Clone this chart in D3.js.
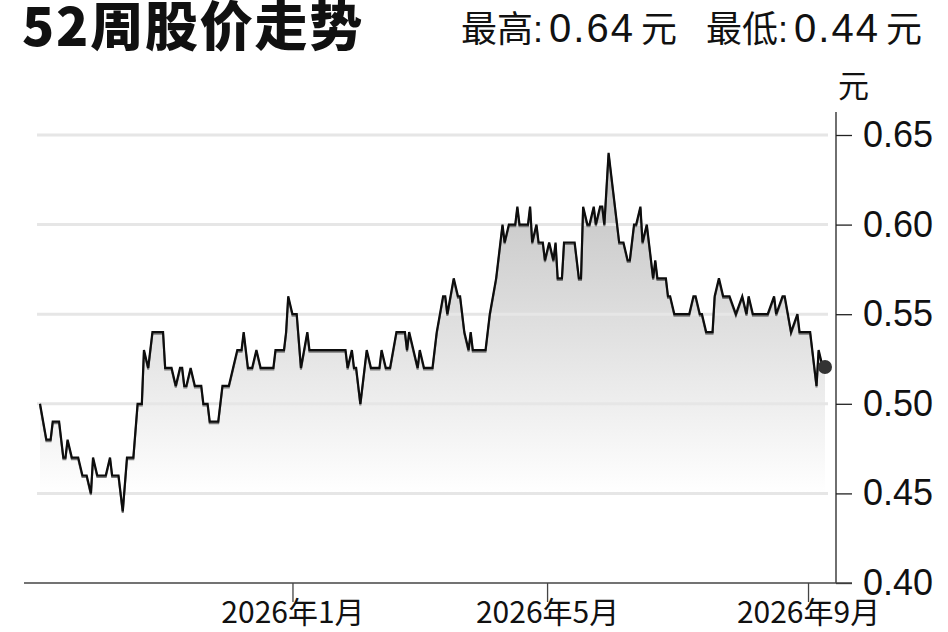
<!DOCTYPE html>
<html>
<head>
<meta charset="utf-8">
<script src="https://cdn.jsdelivr.net/npm/d3@7"></script>
<style>
  body { margin: 0; background: #fff; }
  svg { display: block; }
</style>
</head>
<body>
<svg id="chart"></svg>
<script>
// 52-week closes (turning points only)
const dates = [
  "2025-09-04","2025-09-07","2025-09-09","2025-09-10","2025-09-13","2025-09-15","2025-09-16","2025-09-17","2025-09-19","2025-09-22","2025-09-24","2025-09-26","2025-09-28","2025-09-29",
  "2025-10-01","2025-10-05","2025-10-07","2025-10-08","2025-10-11","2025-10-13","2025-10-15","2025-10-18","2025-10-20","2025-10-22","2025-10-23","2025-10-25","2025-10-27",
  "2025-11-01","2025-11-02","2025-11-05","2025-11-07","2025-11-09","2025-11-10","2025-11-11","2025-11-12","2025-11-14","2025-11-16","2025-11-19","2025-11-20","2025-11-22","2025-11-23","2025-11-27","2025-11-29",
  "2025-12-02","2025-12-04","2025-12-06","2025-12-08","2025-12-09","2025-12-11","2025-12-13","2025-12-15","2025-12-17","2025-12-23","2025-12-24","2025-12-28","2025-12-29","2025-12-30",
  "2026-01-01","2026-01-03","2026-01-05","2026-01-08","2026-01-09","2026-01-26","2026-01-27","2026-01-29","2026-01-30","2026-01-31",
  "2026-02-02","2026-02-05","2026-02-07","2026-02-11","2026-02-12","2026-02-14","2026-02-16","2026-02-19","2026-02-23","2026-02-24","2026-02-25",
  "2026-03-01","2026-03-02","2026-03-04","2026-03-08","2026-03-10","2026-03-13","2026-03-14","2026-03-15","2026-03-18","2026-03-20","2026-03-21","2026-03-23","2026-03-25","2026-03-26","2026-03-27",
  "2026-04-02","2026-04-04","2026-04-07","2026-04-10","2026-04-11","2026-04-13","2026-04-16","2026-04-17","2026-04-18","2026-04-22","2026-04-23","2026-04-24","2026-04-26","2026-04-27","2026-04-29","2026-04-30",
  "2026-05-02","2026-05-04","2026-05-05","2026-05-06","2026-05-08","2026-05-09","2026-05-14","2026-05-16","2026-05-17","2026-05-18","2026-05-20","2026-05-21","2026-05-23","2026-05-24","2026-05-26","2026-05-27","2026-05-28","2026-05-30",
  "2026-06-01","2026-06-04","2026-06-06","2026-06-08","2026-06-09","2026-06-11","2026-06-12","2026-06-14","2026-06-15","2026-06-17","2026-06-18","2026-06-20","2026-06-21","2026-06-22","2026-06-26","2026-06-27","2026-06-28","2026-06-30",
  "2026-07-07","2026-07-09","2026-07-10","2026-07-12","2026-07-13","2026-07-15","2026-07-18","2026-07-19","2026-07-21","2026-07-23","2026-07-26","2026-07-29",
  "2026-08-01","2026-08-03","2026-08-04","2026-08-06","2026-08-13","2026-08-16","2026-08-17","2026-08-20","2026-08-21","2026-08-24","2026-08-27","2026-08-28",
  "2026-09-02","2026-09-05","2026-09-06","2026-09-08","2026-09-09"
];
const prices = [
  0.50,0.48,0.48,0.49,0.49,0.47,0.47,0.48,0.47,0.47,0.46,0.46,0.45,0.47,
  0.46,0.46,0.47,0.46,0.46,0.44,0.47,0.47,0.50,0.50,0.53,0.52,0.54,
  0.54,0.52,0.52,0.51,0.52,0.52,0.51,0.51,0.52,0.51,0.51,0.50,0.50,0.49,0.49,0.51,
  0.51,0.52,0.53,0.53,0.54,0.52,0.52,0.53,0.52,0.52,0.53,0.53,0.54,0.56,
  0.55,0.55,0.52,0.54,0.53,0.53,0.52,0.53,0.52,0.52,
  0.50,0.53,0.52,0.52,0.53,0.52,0.52,0.54,0.54,0.53,0.54,
  0.52,0.53,0.52,0.52,0.54,0.56,0.56,0.55,0.57,0.56,0.56,0.54,0.53,0.54,0.53,
  0.53,0.55,0.57,0.60,0.59,0.60,0.60,0.61,0.60,0.60,0.61,0.59,0.60,0.59,0.59,0.58,
  0.59,0.58,0.59,0.57,0.57,0.59,0.59,0.57,0.57,0.61,0.60,0.60,0.61,0.60,0.61,0.61,0.60,0.64,
  0.62,0.59,0.59,0.58,0.58,0.60,0.60,0.61,0.59,0.60,0.59,0.57,0.58,0.57,0.57,0.56,0.56,0.55,
  0.55,0.56,0.56,0.55,0.55,0.54,0.54,0.56,0.57,0.56,0.56,0.55,
  0.56,0.55,0.56,0.55,0.55,0.56,0.55,0.56,0.56,0.54,0.55,0.54,
  0.54,0.51,0.53,0.52,0.52
];
const yTicks = [0.40, 0.45, 0.50, 0.55, 0.60, 0.65];
const monthTicks = ["2026-01-01", "2026-05-01", "2026-09-01"];
const title = "52周股价走势";
const highLabel = "最高", highValue = "0.64";
const lowLabel = "最低", lowValue = "0.44";
const unitText = "元";

const W = 948, H = 632;
const parse = d3.timeParse("%Y-%m-%d");
const data = dates.map((d, i) => ({date: parse(d), value: prices[i]}));

const svg = d3.select("#chart").attr("width", W).attr("height", H);

// scales
const x = d3.scaleTime()
  .domain(d3.extent(data, d => d.date))
  .range([40, 825]);
const y = d3.scaleLinear()
  .domain([0.40, 0.65])
  .range([583, 135]);

const axisX = 836, plotTop = 112;
const cjk = "'Noto Sans CJK SC', 'Noto Sans', sans-serif";
const latin = "'Liberation Sans', 'Noto Sans CJK SC', sans-serif";
const narrow = "'Liberation Sans Narrow', 'Arial Narrow', 'Liberation Sans', sans-serif";

// area gradient
const grad = svg.append("defs").append("linearGradient")
  .attr("id", "fade")
  .attr("gradientUnits", "userSpaceOnUse")
  .attr("x1", 0).attr("x2", 0)
  .attr("y1", y(0.64)).attr("y2", y(0.45));
grad.append("stop").attr("offset", 0).attr("stop-color", "#c0c0c0");
grad.append("stop").attr("offset", 0.55).attr("stop-color", "#e2e2e2");
grad.append("stop").attr("offset", 1).attr("stop-color", "#ffffff");

const area = d3.area()
  .x(d => x(d.date))
  .y0(y(0.40))
  .y1(d => y(d.value));
svg.append("path")
  .datum(data)
  .attr("d", area)
  .attr("fill", "url(#fade)");

// gridlines
svg.append("g")
  .selectAll("line")
  .data(yTicks.filter(v => v > 0.40))
  .join("line")
  .attr("x1", 37).attr("x2", 828)
  .attr("y1", d => y(d)).attr("y2", d => y(d))
  .attr("stroke", "#e6e6e6")
  .attr("stroke-width", 3);

// line with a soft grey shadow
const line = d3.line()
  .x(d => x(d.date))
  .y(d => y(d.value));
svg.append("path")
  .datum(data)
  .attr("d", line)
  .attr("transform", "translate(0,1.6)")
  .attr("fill", "none")
  .attr("stroke", "#7a7a7a")
  .attr("stroke-width", 2);
svg.append("path")
  .datum(data)
  .attr("d", line)
  .attr("fill", "none")
  .attr("stroke", "#0d0d0d")
  .attr("stroke-width", 2.2);

// last point marker
const last = data[data.length - 1];
svg.append("circle")
  .attr("cx", x(last.date))
  .attr("cy", y(last.value) - 1)
  .attr("r", 7)
  .attr("fill", "#333");

// y axis on the right
const yAxis = d3.axisRight(y)
  .tickValues(yTicks)
  .tickSize(16)
  .tickPadding(11)
  .tickFormat(d3.format(".2f"));
const gy = svg.append("g")
  .attr("transform", `translate(${axisX},0)`)
  .call(yAxis);
gy.select(".domain").remove();
gy.selectAll(".tick line").attr("stroke", "#222").attr("stroke-width", 1.3);
gy.selectAll(".tick text")
  .attr("fill", "#111")
  .style("font-family", narrow)
  .style("font-size", "36px");
svg.append("line")
  .attr("x1", axisX).attr("x2", axisX)
  .attr("y1", plotTop).attr("y2", y(0.40))
  .attr("stroke", "#222").attr("stroke-width", 1.3);

// x axis
const xAxis = d3.axisBottom(x)
  .tickValues(monthTicks.map(parse))
  .tickSize(19)
  .tickPadding(0)
  .tickFormat(d3.timeFormat("%Y年%-m月"));
const gx = svg.append("g")
  .attr("transform", `translate(0,${y(0.40)})`)
  .call(xAxis);
gx.select(".domain").remove();
gx.selectAll(".tick line").attr("stroke", "#444").attr("stroke-width", 1.3);
gx.selectAll(".tick text")
  .attr("fill", "#111")
  .style("font-family", cjk)
  .style("font-size", "30px");
svg.append("line")
  .attr("x1", 24).attr("x2", axisX + 16)
  .attr("y1", y(0.40)).attr("y2", y(0.40))
  .attr("stroke", "#444").attr("stroke-width", 1.5);

// headings
svg.append("text")
  .attr("x", 22).attr("y", 46)
  .style("font-family", cjk)
  .style("font-weight", "900")
  .style("font-size", "53px")
  .style("letter-spacing", "1.8px")
  .attr("fill", "#111")
  .text(title);

function stat(x0, label, value) {
  const t = svg.append("text")
    .attr("x", x0).attr("y", 42)
    .attr("fill", "#111");
  t.append("tspan").style("font-family", cjk).style("font-size", "36px").text(label);
  t.append("tspan").style("font-family", latin).style("font-size", "36px").text(":");
  t.append("tspan").attr("dx", 6).style("font-family", latin).style("font-size", "40px")
    .style("letter-spacing", "2px").text(value);
  t.append("tspan").attr("dx", 6).style("font-family", cjk).style("font-size", "36px").text(unitText);
}
stat(461, highLabel, highValue);
stat(706, lowLabel, lowValue);

svg.append("text")
  .attr("x", 838).attr("y", 97)
  .style("font-family", cjk)
  .style("font-size", "31px")
  .attr("fill", "#111")
  .text(unitText);
</script>
</body>
</html>
